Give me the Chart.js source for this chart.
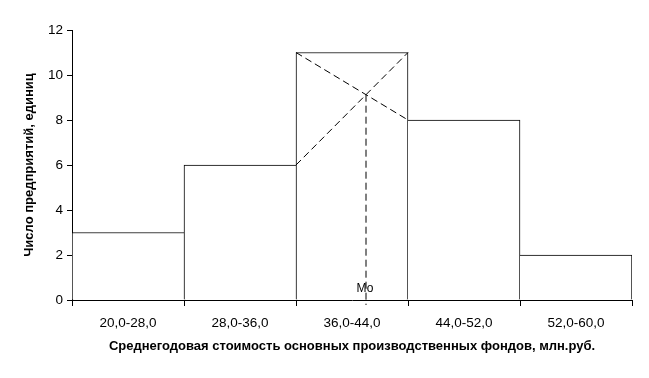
<!DOCTYPE html>
<html>
<head>
<meta charset="utf-8">
<script src="https://cdn.jsdelivr.net/npm/chart.js@4"></script>
<style>
  html, body { margin: 0; padding: 0; background: #fff; }
  #wrap { width: 649px; height: 378px; position: relative; }
</style>
</head>
<body>
<div id="wrap"><canvas id="c"></canvas></div>
<script>
// интервалы и частоты
const intervals = ['20,0-28,0', '28,0-36,0', '36,0-44,0', '44,0-52,0', '52,0-60,0'];
const counts = [3, 6, 11, 8, 2];
const bounds = [20, 60];

// построение моды: диагонали в модальном интервале
const modeLeft = 36, modeRight = 44;
const fPrev = 6, fMode = 11, fNext = 8;
const modeValue = modeLeft + (modeRight - modeLeft) * (fMode - fPrev) / ((fMode - fPrev) + (fMode - fNext));
const modeY = fPrev + (fMode - fPrev) * (modeValue - modeLeft) / (modeRight - modeLeft);

const diag1 = [{ x: modeLeft, y: fPrev }, { x: modeRight, y: fMode }];
const diag2 = [{ x: modeLeft, y: fMode }, { x: modeRight, y: fNext }];
const modeLine = [{ x: modeValue, y: modeY }, { x: modeValue, y: -0.22 }];

const FONT = 'Liberation Sans, Arial, sans-serif';

const dashed = (data) => ({
  type: 'line',
  data,
  xAxisID: 'x2',
  borderColor: '#000',
  borderWidth: 1,
  borderDash: [7, 4],
  pointRadius: 0,
  fill: false,
  clip: false,
  order: 1,
});

// общая граница соседних столбцов рисуется только у более высокого, чтобы линия была в 1px
const barBorder = (ctx) => {
  const i = ctx.dataIndex;
  const v = counts[i];
  const prev = i > 0 ? counts[i - 1] : -Infinity;
  const next = i < counts.length - 1 ? counts[i + 1] : -Infinity;
  return { top: 1, bottom: 0, left: v >= prev ? 1 : 0, right: v > next ? 1 : 0 };
};

// подпись "Мо" у основания
const moLabel = {
  id: 'moLabel',
  afterDatasetsDraw(chart) {
    const { ctx, scales } = chart;
    const px = scales.x2.getPixelForValue(modeValue);
    const py = scales.y.getPixelForValue(0);
    ctx.save();
    ctx.font = '12px ' + FONT;
    ctx.fillStyle = '#000';
    ctx.textAlign = 'center';
    ctx.textBaseline = 'bottom';
    ctx.fillText('Мо', px - 1, py - 5);
    ctx.restore();
  }
};

new Chart(document.getElementById('c'), {
  type: 'bar',
  data: {
    labels: intervals,
    datasets: [
      {
        data: counts,
        backgroundColor: '#fff',
        borderColor: '#000',
        borderWidth: barBorder,
        barPercentage: 1,
        categoryPercentage: 1,
        grouped: false,
        order: 2,
      },
      dashed(diag1),
      dashed(diag2),
      dashed(modeLine),
    ],
  },
  options: {
    responsive: true,
    maintainAspectRatio: false,
    animation: false,
    layout: { padding: { top: 30, right: 17, left: 18, bottom: 20 } },
    plugins: { legend: { display: false }, tooltip: { enabled: false } },
    scales: {
      x: {
        offset: true,
        grid: { offset: true, drawOnChartArea: false, color: '#000', tickLength: 6 },
        border: { color: '#000' },
        ticks: { color: '#000', font: { family: FONT, size: 13.5 }, padding: 9 },
        title: {
          display: true,
          text: 'Среднегодовая стоимость основных производственных фондов, млн.руб.',
          color: '#000',
          font: { family: FONT, size: 13, weight: 'bold' },
          padding: { top: 6, bottom: 4 },
        },
        afterFit(s) { s.height = 58; },
      },
      x2: {
        type: 'linear',
        min: bounds[0],
        max: bounds[1],
        offset: false,
        display: false,
      },
      y: {
        min: 0,
        max: 12,
        ticks: { stepSize: 2, color: '#000', font: { family: FONT, size: 13.5 }, padding: 4 },
        grid: { drawOnChartArea: false, color: '#000', tickLength: 5 },
        border: { color: '#000' },
        title: {
          display: true,
          text: 'Число предприятий, единиц',
          color: '#000',
          font: { family: FONT, size: 13, weight: 'bold' },
        },
        afterFit(s) { s.width = 54; },
      },
    },
  },
  plugins: [moLabel],
});
</script>
</body>
</html>
